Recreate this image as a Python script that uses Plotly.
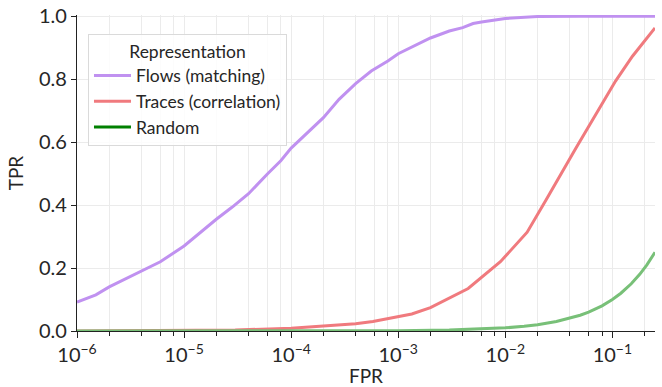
import plotly.graph_objects as go
import numpy as np

# ---- data ----
flows_fpr = [1e-6, 1.5e-6, 2e-6, 3e-6, 4e-6, 6e-6, 1e-5, 1.5e-5, 2e-5, 2.8e-5, 4e-5,
             6e-5, 8e-5, 1e-4, 2e-4, 2.8e-4, 4e-4, 5.6e-4, 8e-4, 1e-3, 2e-3, 3e-3,
             4e-3, 5e-3, 6e-3, 1e-2, 2e-2, 5e-2, 0.25]
flows_tpr = [0.092, 0.115, 0.14, 0.17, 0.19, 0.22, 0.27, 0.32, 0.355, 0.393, 0.436,
             0.499, 0.541, 0.581, 0.678, 0.736, 0.786, 0.826, 0.858, 0.881, 0.931, 0.953,
             0.964, 0.977, 0.982, 0.993, 0.999, 1.0, 1.0]

traces_fpr = [1e-6, 1e-5, 3e-5, 1e-4, 2e-4, 4e-4, 5.8e-4, 1e-3, 1.34e-3, 2e-3, 4.5e-3,
              9e-3, 1.6e-2, 2.4e-2, 4.6e-2, 0.107, 0.154, 0.25]
traces_tpr = [0.0, 0.001, 0.003, 0.009, 0.016, 0.023, 0.03, 0.045, 0.054, 0.074, 0.135,
              0.22, 0.314, 0.416, 0.583, 0.794, 0.873, 0.963]

random_fpr = [1e-6, 1e-5, 1e-4, 1e-3, 3e-3, 6e-3, 0.01, 0.015, 0.02, 0.03, 0.04, 0.05,
              0.06, 0.08, 0.1, 0.12, 0.15, 0.18, 0.21, 0.25]
random_tpr = [1e-6, 1e-5, 1e-4, 1e-3, 3e-3, 6e-3, 0.01, 0.015, 0.02, 0.03, 0.04, 0.05,
              0.06, 0.08, 0.1, 0.12, 0.15, 0.18, 0.21, 0.25]

series_names = ["Flows (matching)", "Traces (correlation)", "Random"]
line_colors = ["rgb(192,145,240)", "rgb(240,122,126)", "rgb(120,192,120)"]
legend_colors = ["rgb(192,145,240)", "rgb(240,122,126)", "rgb(0,128,0)"]

major_ticks = [1e-6, 1e-5, 1e-4, 1e-3, 1e-2, 1e-1]
major_text = ["10<sup>−6</sup>", "10<sup>−5</sup>", "10<sup>−4</sup>",
              "10<sup>−3</sup>", "10<sup>−2</sup>", "10<sup>−1</sup>"]
minor_ticks = [m * 10.0 ** e for e in range(-6, 0) for m in (2, 4, 6, 8) if m * 10.0 ** e <= 0.25]

y_ticks = [0, 0.2, 0.4, 0.6, 0.8, 1.0]
y_text = ["0.0", "0.2", "0.4", "0.6", "0.8", "1.0"]

FONT = "Lato, Noto Sans, sans-serif"
TXT = "#262626"

fig = go.Figure()
data_sets = [(flows_fpr, flows_tpr), (traces_fpr, traces_tpr), (random_fpr, random_tpr)]
for (xs, ys), col in zip(data_sets, line_colors):
    fig.add_trace(go.Scatter(x=xs, y=ys, mode="lines", line=dict(color=col, width=3),
                             showlegend=False, hoverinfo="skip"))
for name, col in zip(series_names, legend_colors):
    fig.add_trace(go.Scatter(x=[None], y=[None], mode="lines", name=name,
                             line=dict(color=col, width=3)))

fig.update_layout(
    width=662, height=387,
    margin=dict(l=77, r=7, t=15, b=56, autoexpand=False),
    paper_bgcolor="white", plot_bgcolor="white",
    font=dict(family=FONT, size=18, color=TXT),
    legend=dict(
        x=0.019, y=0.94, xanchor="left", yanchor="top",
        bgcolor="rgba(255,255,255,0.85)", bordercolor="#dadada", borderwidth=1,
        font=dict(size=17.5, color=TXT),
        title=dict(text="Representation", side="top center", font=dict(size=17.5, color=TXT)),
        tracegroupgap=0, itemwidth=37,
    ),
    xaxis=dict(
        type="log", range=[-6, np.log10(0.25)], automargin=False,
        tickmode="array", tickvals=major_ticks, ticktext=major_text,
        ticks="outside", ticklen=6, tickwidth=1.2, tickcolor="#222",
        showline=True, linecolor="#222", linewidth=1.2,
        showgrid=True, gridcolor="#ebebeb", gridwidth=1,
        zeroline=False,
        tickfont=dict(size=20, color=TXT),
        title=dict(text="FPR", font=dict(size=19, color=TXT), standoff=8),
        minor=dict(tickmode="array", tickvals=minor_ticks, ticks="outside", ticklen=4,
                   tickwidth=1, tickcolor="#222", showgrid=True, gridcolor="#ebebeb",
                   gridwidth=1),
    ),
    yaxis=dict(
        range=[0, 1.004], automargin=False,
        tickmode="array", tickvals=y_ticks, ticktext=y_text,
        ticks="outside", ticklen=5, tickwidth=1.2, tickcolor="#222",
        showline=True, linecolor="#222", linewidth=1.2,
        showgrid=True, gridcolor="#ebebeb", gridwidth=1,
        zeroline=False,
        tickfont=dict(size=20, color=TXT),
        title=dict(text="TPR", font=dict(size=19, color=TXT), standoff=10),
    ),
)

fig.write_html("out.html")
